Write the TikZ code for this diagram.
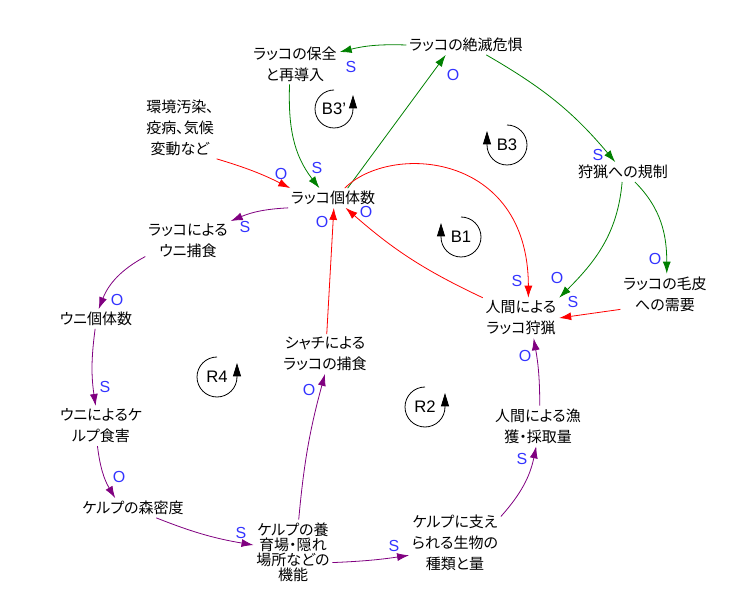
\documentclass[tikz,border=0pt]{standalone}
\usepackage{fontspec}
\setmainfont{Liberation Sans}
\newfontfamily\jpfont[RawFeature=+palt]{Noto Sans CJK JP}
\usetikzlibrary{arrows.meta}
\definecolor{CLDGreen}{HTML}{008000}
\definecolor{CLDRed}{HTML}{FF0000}
\definecolor{CLDPurple}{HTML}{800080}
\definecolor{CLDBlue}{HTML}{3333FF}

\begin{document}
\begin{tikzpicture}[
            x=0.75pt,y=0.75pt,
            >={Latex[length=9pt,width=6pt]},
            var/.style={inner sep=2pt,align=center,
              font=\jpfont\fontsize{11.25}{15.75}\selectfont},
            pol/.style={text=CLDBlue,inner sep=0pt,font=\fontsize{12}{13}\selectfont},
            loopname/.style={inner sep=0pt,font=\fontsize{12.5}{14}\selectfont},
            loopline/.style={-{Triangle[length=10pt,width=6pt]},line width=0.6pt},
            gline/.style={->,CLDGreen,line width=0.6pt},
            rline/.style={->,CLDRed,line width=0.6pt},
            pline/.style={->,CLDPurple,line width=0.6pt}
          ]
          \useasboundingbox (0,0) rectangle (751,-613);
          % variables
          \node[var] (extinct) at (466,-45) {ラッコの絶滅危惧};
          \node[var] (conserve) at (295,-64) {ラッコの保全\\と再導入};
          \node[var] (env) at (180,-128) {環境汚染、\\疫病、気候\\変動など};
          \node[var] (pop) at (333,-198) {ラッコ個体数};
          \node[var] (regul) at (623,-172) {狩猟への規制};
          \node[var] (otterpred) at (188,-241) {ラッコによる\\ウニ捕食};
          \node[var] (fur) at (665,-294) {ラッコの毛皮\\への需要};
          \node[var] (hunt) at (521,-318) {人間による\\ラッコ狩猟};
          \node[var] (urchin) at (96,-319) {ウニ個体数};
          \node[var] (orca) at (325,-354) {シャチによる\\ラッコの捕食};
          \node[var] (kelpdmg) at (101,-426) {ウニによるケ\\ルプ食害};
          \node[var] (fishing) at (538,-426) {人間による漁\\獲・採取量};
          \node[var] (kelpdens) at (133,-508) {ケルプの森密度};
          \node[var,font=\jpfont\fontsize{11.25}{11.25}\selectfont] (nursery) at (293,-552)
            {ケルプの養\\育場・隠れ\\場所などの\\機能};
          \node[var] (supported) at (455,-543) {ケルプに支え\\られる生物の\\種類と量};
          % loops
          \node[loopname] (b3p) at (334,-109) {B3’};
          \node[loopname] (b3) at (507,-145) {B3};
          \node[loopname] (b1) at (461,-237) {B1};
          \node[loopname] (r4) at (217,-377) {R4};
          \node[loopname] (r2) at (425,-407) {R2};
          \draw[loopline] (b3p.center) ++(90:19) arc[start angle=90,end angle=360,radius=19] -- ++(0,14);
          \draw[loopline] (b3.center) ++(90:20) arc[start angle=90,end angle=-180,radius=20] -- ++(0,14);
          \draw[loopline] (b1.center) ++(90:20) arc[start angle=90,end angle=-180,radius=20] -- ++(0,14);
          \draw[loopline] (r4.center) ++(90:20) arc[start angle=90,end angle=360,radius=20] -- ++(0,14);
          \draw[loopline] (r2.center) ++(90:20) arc[start angle=90,end angle=360,radius=20] -- ++(0,14);
          % links
          \draw[gline] (extinct.west) to[bend right=8] (conserve.15);
          \draw[gline] (pop.34) -- (extinct.206);
          \draw[gline] (conserve.255) to[out=268,in=128] (pop.144);
          \draw[gline] (extinct.334) to[out=-30,in=130] (regul.128);
          \draw[gline] (regul.265) to[out=265,in=45] (hunt.north east);
          \draw[gline] (regul.-40) to[out=-45,in=90] (fur.85);
          \draw[rline] (fur.199) -- (hunt.east);
          \draw[rline] (pop.40) .. controls +(45:64) and +(90:146) .. (hunt.70);
          \draw[rline] (hunt.north west) to[bend left=8] (pop.-38);
          \draw[rline] (env.south east) to[bend left=5] (pop.167);
          \draw[rline] (orca.85) -- (pop.275);
          \draw[pline] (pop.south west) to[bend right=10] (otterpred.north east);
          \draw[pline] (otterpred.200) to[bend right=20] (urchin.75);
          \draw[pline] (urchin.265) to[bend right=8] (kelpdmg.105);
          \draw[pline] (kelpdmg.260) to[bend right=12] (kelpdens.151);
          \draw[pline] (kelpdens.337) to[bend right=6] (nursery.170);
          \draw[pline] (nursery.80) to[bend left=5] (orca.south);
          \draw[pline] (nursery.-15) to[bend right=3] (supported.195);
          \draw[pline] (supported.30) to[bend right=15] (fishing.265);
          \draw[pline] (fishing.85) to[bend right=5] (hunt.302);
          % polarities
          \node[pol] (p1) at (351,-67) {S};
          \node[pol] (p2) at (453,-75) {O};
          \node[pol] (p3) at (317,-168) {S};
          \node[pol] (p4) at (598,-155) {S};
          \node[pol] (p5) at (557,-278) {O};
          \node[pol] (p6) at (655,-259) {O};
          \node[pol] (p7) at (573,-302) {S};
          \node[pol] (p8) at (517,-281) {S};
          \node[pol] (p9) at (366,-212) {O};
          \node[pol] (p10) at (281,-174) {O};
          \node[pol] (p11) at (322,-222) {O};
          \node[pol] (p12) at (245,-227) {S};
          \node[pol] (p13) at (117,-300) {O};
          \node[pol] (p14) at (105,-387) {S};
          \node[pol] (p15) at (119,-477) {O};
          \node[pol] (p16) at (241,-533) {S};
          \node[pol] (p17) at (309,-390) {O};
          \node[pol] (p18) at (394,-546) {S};
          \node[pol] (p19) at (522,-459) {S};
          \node[pol] (p20) at (525,-356) {O};
        \end{tikzpicture}
\end{document}
